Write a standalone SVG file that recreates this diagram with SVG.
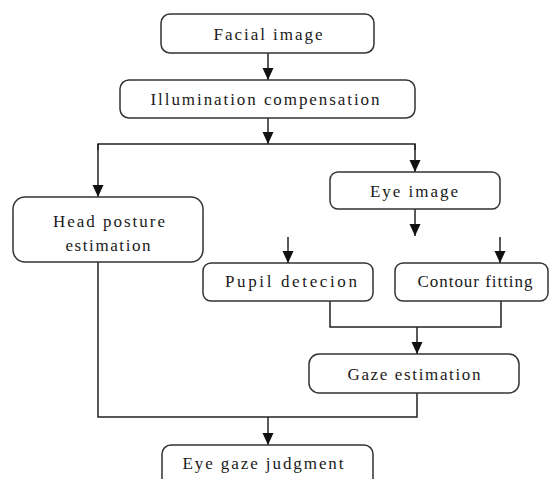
<svg xmlns="http://www.w3.org/2000/svg" width="553" height="479" viewBox="0 0 553 479">
<style>
.box{fill:#fff;stroke:#333;stroke-width:1.5}
.t{font-family:"Liberation Serif","Times New Roman",serif;font-size:17px;fill:#1a1a1a;text-anchor:middle}
.c{fill:none;stroke:#222;stroke-width:1.5}
</style>
<defs>
<marker id="a" markerUnits="userSpaceOnUse" markerWidth="13" markerHeight="13" viewBox="0 0 13 13" refX="12" refY="6.5" orient="auto">
<path d="M0,1 L12,6.5 L0,12 Z" fill="#111"/>
</marker>
</defs>
<rect width="553" height="479" fill="#fff"/>
<g id="connectors">
<line class="c" x1="268" y1="53" x2="268" y2="80" marker-end="url(#a)"/>
<line class="c" x1="268" y1="118" x2="268" y2="144" marker-end="url(#a)"/>
<polyline class="c" points="98,150 98,144 415,144 415,150"/>
<line class="c" x1="98" y1="144" x2="98" y2="197" marker-end="url(#a)"/>
<line class="c" x1="415" y1="144" x2="415" y2="172" marker-end="url(#a)"/>
<line class="c" x1="415" y1="209" x2="415" y2="236" marker-end="url(#a)"/>
<line class="c" x1="288" y1="237" x2="288" y2="263" marker-end="url(#a)"/>
<line class="c" x1="500" y1="237" x2="500" y2="263" marker-end="url(#a)"/>
<polyline class="c" points="330,301 330,327 501,327 501,301"/>
<line class="c" x1="417" y1="327" x2="417" y2="354" marker-end="url(#a)"/>
<polyline class="c" points="98,262 98,417 417,417 417,393"/>
<line class="c" x1="268" y1="417" x2="268" y2="445" marker-end="url(#a)"/>
</g>
<g id="facial">
<rect class="box" x="161" y="14" width="213" height="39" rx="9"/>
<text class="t" x="268" y="40" textLength="109" lengthAdjust="spacing">Facial image</text>
</g>
<g id="illum">
<rect class="box" x="120" y="80" width="295" height="38" rx="9"/>
<text class="t" x="265" y="105" textLength="229" lengthAdjust="spacing">Illumination compensation</text>
</g>
<g id="head">
<rect class="box" x="13" y="197" width="190" height="65" rx="12"/>
<text class="t" x="109" y="227" textLength="112" lengthAdjust="spacing">Head posture</text>
<text class="t" x="108" y="251" textLength="85" lengthAdjust="spacing">estimation</text>
</g>
<g id="eye">
<rect class="box" x="330" y="172" width="170" height="37" rx="8"/>
<text class="t" x="414" y="197" textLength="88" lengthAdjust="spacing">Eye image</text>
</g>
<g id="pupil">
<rect class="box" x="203" y="263" width="170" height="38" rx="8"/>
<text class="t" x="291" y="287" textLength="132" lengthAdjust="spacing">Pupil detecion</text>
</g>
<g id="contour">
<rect class="box" x="395" y="263" width="153" height="38" rx="8"/>
<text class="t" x="475" y="287" textLength="115" lengthAdjust="spacing">Contour fitting</text>
</g>
<g id="gaze">
<rect class="box" x="309" y="354" width="210" height="39" rx="10"/>
<text class="t" x="414" y="380" textLength="133" lengthAdjust="spacing">Gaze estimation</text>
</g>
<g id="judgment">
<rect class="box" x="162" y="445" width="211" height="45" rx="9"/>
<text class="t" x="263" y="469" textLength="161" lengthAdjust="spacing">Eye gaze judgment</text>
</g>
</svg>
